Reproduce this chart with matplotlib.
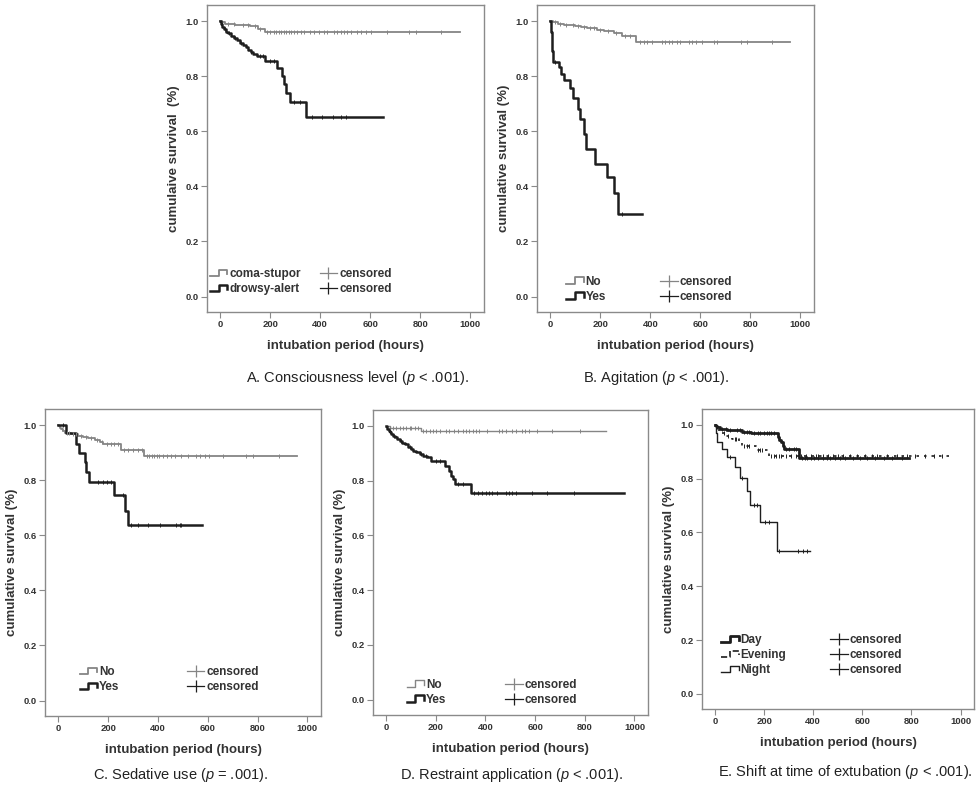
import matplotlib
matplotlib.use("Agg")
import matplotlib.pyplot as plt
import numpy as np
from matplotlib.legend_handler import HandlerBase
from matplotlib.lines import Line2D

plt.rcParams['font.family'] = ['Liberation Sans', 'DejaVu Sans']
plt.rcParams['mathtext.fontset'] = 'custom'
plt.rcParams['mathtext.it'] = 'Liberation Sans:italic'
plt.rcParams['mathtext.rm'] = 'Liberation Sans'

# ---- A. consciousness level -------------------------------------------
a_coma_t = [8, 21, 60, 121, 150, 178]
a_coma_s = [0.995, 0.99, 0.986, 0.981, 0.972, 0.962]
a_coma_end = 960
a_coma_cens = [30, 55, 90, 110, 140, 160, 188, 200, 214, 225, 235, 245, 255, 265,
               275, 285, 295, 308, 322, 335, 361, 375, 395, 415, 428, 455, 469, 482,
               496, 509, 522, 549, 562, 582, 602, 669, 756, 783, 884]
a_drow_t = [3, 8, 14, 22, 30, 42, 55, 68, 80, 92, 102, 112, 122, 132, 147, 180, 228,
            248, 256, 264, 280, 342]
a_drow_s = [0.99, 0.98, 0.97, 0.962, 0.955, 0.946, 0.938, 0.93, 0.922, 0.914, 0.905,
            0.896, 0.888, 0.88, 0.872, 0.855, 0.83, 0.80, 0.77, 0.74, 0.705, 0.652]
a_drow_end = 650
a_drow_cens = [18, 35, 60, 85, 125, 160, 172, 200, 215, 294, 320, 368, 408, 451, 482, 502]

# ---- B. agitation ----------------------------------------------------------
b_no_t = [13, 30, 54, 75, 100, 125, 147, 187, 215, 254, 287, 343]
b_no_s = [0.995, 0.991, 0.987, 0.984, 0.981, 0.978, 0.975, 0.969, 0.964, 0.956, 0.945, 0.924]
b_no_end = 960
b_no_cens = [20, 40, 65, 90, 110, 135, 160, 175, 200, 230, 265, 300, 320, 360, 374, 387,
             407, 447, 460, 474, 487, 507, 520, 554, 567, 581, 607, 654, 668, 761, 788, 888]
b_yes_t = [3, 6, 9, 11, 34, 43, 54, 78, 90, 110, 118, 134, 144, 180, 227, 254, 270]
b_yes_s = [0.96, 0.92, 0.89, 0.853, 0.833, 0.808, 0.787, 0.756, 0.72, 0.681, 0.643,
           0.59, 0.536, 0.481, 0.433, 0.375, 0.30]
b_yes_end = 367
b_yes_cens = [19, 287]

# ---- C. sedative use -------------------------------------------------------
c_no_t = [4, 8, 13, 20, 27, 50, 80, 100, 120, 147, 167, 180, 253, 344]
c_no_s = [0.995, 0.99, 0.984, 0.978, 0.972, 0.967, 0.961, 0.957, 0.953, 0.945, 0.939,
          0.930, 0.909, 0.887]
c_no_end = 960
c_no_cens = [15, 35, 45, 60, 70, 90, 110, 130, 155, 175, 195, 210, 225, 240, 265, 280,
             300, 320, 335, 355, 365, 375, 385, 395, 405, 420, 435, 453, 470, 493, 520,
             553, 567, 587, 607, 660, 753, 780, 884]
c_yes_t = [33, 73, 83, 107, 110, 123, 224, 267, 280]
c_yes_s = [0.970, 0.933, 0.897, 0.867, 0.83, 0.794, 0.748, 0.687, 0.636]
c_yes_end = 576
c_yes_cens = [20, 160, 180, 195, 210, 260, 293, 320, 360, 407, 473, 487, 493]

# ---- D. restraint application ---------------------------------------------
d_no_t = [15, 141]
d_no_s = [0.992, 0.981]
d_no_end = 885
d_no_cens = [28, 41, 55, 68, 81, 95, 101, 115, 128, 148, 161, 175, 188, 201, 215, 241,
             255, 275, 288, 308, 321, 335, 348, 361, 375, 408, 455, 468, 481, 508, 521,
             548, 561, 575, 608, 668, 781]
d_yes_t = [5, 10, 15, 21, 28, 35, 45, 55, 65, 75, 88, 100, 110, 121, 135, 148, 165,
           181, 235, 252, 261, 271, 279, 341]
d_yes_s = [0.99, 0.982, 0.976, 0.970, 0.964, 0.958, 0.951, 0.945, 0.939, 0.933, 0.924,
           0.915, 0.909, 0.903, 0.897, 0.891, 0.885, 0.873, 0.855, 0.836, 0.818, 0.806,
           0.788, 0.755]
d_yes_end = 958
d_yes_cens = [30, 60, 95, 140, 160, 200, 215, 290, 310, 355, 368, 388, 401, 415, 428,
              448, 481, 495, 508, 521, 588, 648, 755]

# ---- E. shift at extubation ------------------------------------------------
e_day_t = [3, 8, 22, 50, 77, 110, 145, 255, 262, 268, 275, 282, 344]
e_day_s = [0.995, 0.99, 0.985, 0.982, 0.979, 0.975, 0.970, 0.955, 0.945, 0.935, 0.922,
           0.911, 0.877]
e_day_end = 789
e_day_cens = [10, 30, 45, 60, 90, 100, 120, 130, 140, 160, 175, 185, 200, 210, 220, 230,
              240, 290, 300, 320, 330, 355, 365, 375, 390, 405, 420, 440, 455, 470, 490,
              510, 530, 560, 590, 620, 650, 690, 720, 760]
e_eve_t = [5, 15, 30, 42, 70, 97, 111, 166, 220]
e_eve_s = [0.99, 0.978, 0.968, 0.958, 0.946, 0.936, 0.92, 0.905, 0.884]
e_eve_end = 965
e_eve_cens = [35, 55, 80, 85, 120, 130, 140, 175, 185, 190, 230, 240, 250, 260, 270,
              290, 310, 330, 350, 370, 390, 410, 420, 440, 460, 480, 500, 520, 550, 580,
              610, 640, 660, 700, 740, 780, 816, 857, 892, 926]
e_night_t = [3, 8, 29, 49, 83, 101, 131, 142, 183, 252]
e_night_s = [0.968, 0.936, 0.911, 0.880, 0.843, 0.804, 0.754, 0.702, 0.638, 0.532]
e_night_end = 385
e_night_cens = [62, 110, 160, 170, 205, 220, 262, 337, 357, 373]


class StepHandler(HandlerBase):
    # little step glyph like the SPSS legend
    def create_artists(self, legend, orig_handle, xdescent, ydescent, width, height,
                       fontsize, trans):
        xs = np.array([0, 0.5, 0.5, 1.0, 1.0]) * width - xdescent
        ys = np.array([0.1, 0.1, 0.9, 0.9, 0.35]) * height - ydescent
        ln = Line2D(xs, ys, color=orig_handle.get_color(),
                    lw=orig_handle.get_linewidth(), ls=orig_handle.get_linestyle(),
                    transform=trans)
        return [ln]


def km(ax, t, s, end, cens, color, lw, ls='-'):
    times = np.r_[0, t, end]
    surv = np.r_[1.0, s, s[-1]]
    ax.step(times, surv, where='post', color=color, lw=lw, ls=ls, zorder=3)
    # survival at the censored times
    idx = np.searchsorted(times, cens, side='right') - 1
    ax.plot(cens, surv[idx], ls='none', marker='|', ms=3, mew=0.7, color=color, zorder=4)


def setup(ax, ylab):
    ax.set_xlim(-53, 1055)
    ax.set_ylim(-0.056, 1.058)
    ax.set_xticks(np.arange(0, 1001, 200))
    ax.set_yticks(np.arange(0, 1.01, 0.2))
    ax.set_yticklabels(['%.1f' % v for v in np.arange(0, 1.01, 0.2)])
    for sp in ax.spines.values():
        sp.set_color('#8a8a8a')
        sp.set_linewidth(1.0)
    ax.tick_params(direction='out', length=4, width=0.8, color='#8a8a8a',
                   labelsize=6.8, labelcolor='#333333', pad=2)
    for lb in ax.get_xticklabels() + ax.get_yticklabels():
        lb.set_fontweight('bold')
    ax.set_xlabel('intubation period (hours)', fontsize=9.5, fontweight='bold',
                  color='#333333', labelpad=8)
    ax.set_ylabel(ylab, fontsize=9.5, fontweight='bold', color='#333333', labelpad=4)


def legend(ax, names, colors, lws, lss, anchor, colsp):
    steps = [Line2D([], [], color=c, lw=w, ls=s) for c, w, s in zip(colors, lws, lss)]
    cens = [Line2D([], [], color=c, lw=0.9, marker='|', ms=9, mew=0.9) for c in colors]
    hmap = {h: StepHandler() for h in steps}
    ax.legend(steps + cens, names + ['censored'] * len(names), ncol=2, frameon=False,
              loc='lower left', bbox_to_anchor=anchor, handler_map=hmap,
              prop={'size': 8.5, 'weight': 'bold'}, handlelength=1.5, handletextpad=0.15,
              columnspacing=colsp, labelspacing=0.25, borderaxespad=0, borderpad=0,
              labelcolor='#333333')


fig = plt.figure(figsize=(9.79, 7.91), dpi=100)
gray = '#858585'
dark = '#1e1e1e'

axA = fig.add_axes([0.2114, 0.6056, 0.283, 0.388])
km(axA, a_coma_t, a_coma_s, a_coma_end, a_coma_cens, gray, 1.3)
km(axA, a_drow_t, a_drow_s, a_drow_end, a_drow_cens, dark, 1.8)
setup(axA, 'cumulaive survival  (%)')
legend(axA, ['coma-stupor', 'drowsy-alert'], [gray, dark], [1.3, 1.8], ['-', '-'],
       (0.01, 0.055), 1.6)

axB = fig.add_axes([0.5485, 0.6056, 0.283, 0.388])
km(axB, b_no_t, b_no_s, b_no_end, b_no_cens, gray, 1.3)
km(axB, b_yes_t, b_yes_s, b_yes_end, b_yes_cens, dark, 1.8)
setup(axB, 'cumulative survival (%)')
legend(axB, ['No', 'Yes'], [gray, dark], [1.3, 1.8], ['-', '-'], (0.105, 0.03), 4.6)

axC = fig.add_axes([0.046, 0.0948, 0.282, 0.388])
km(axC, c_no_t, c_no_s, c_no_end, c_no_cens, gray, 1.3)
km(axC, c_yes_t, c_yes_s, c_yes_end, c_yes_cens, dark, 1.8)
setup(axC, 'cumulative survival (%)')
legend(axC, ['No', 'Yes'], [gray, dark], [1.3, 1.8], ['-', '-'], (0.125, 0.075), 5.7)

axD = fig.add_axes([0.381, 0.0961, 0.281, 0.3856])
km(axD, d_no_t, d_no_s, d_no_end, d_no_cens, gray, 1.0)
km(axD, d_yes_t, d_yes_s, d_yes_end, d_yes_cens, dark, 1.8)
setup(axD, 'cumulative survival (%)')
legend(axD, ['No', 'Yes'], [gray, dark], [1.0, 1.8], ['-', '-'], (0.122, 0.03), 5.0)

axE = fig.add_axes([0.717, 0.1037, 0.278, 0.379])
km(axE, e_day_t, e_day_s, e_day_end, e_day_cens, dark, 2.0)
km(axE, e_eve_t, e_eve_s, e_eve_end, e_eve_cens, dark, 1.2, (0, (1.5, 3)))
km(axE, e_night_t, e_night_s, e_night_end, e_night_cens, dark, 1.0)
setup(axE, 'cumulative survival (%)')
legend(axE, ['Day', 'Evening', 'Night'], [dark, dark, dark], [2.0, 1.2, 1.0],
       ['-', (0, (1.5, 3)), '-'], (0.07, 0.11), 3.7)

cap = dict(ha='center', va='center', fontsize=10.5, color='#222222')
fig.text(357 / 979, 1 - 378 / 791, r'A. Consciousness level ($p$ < .001).', **cap)
fig.text(656 / 979, 1 - 378 / 791, r'B. Agitation ($p$ < .001).', **cap)
fig.text(181 / 979, 1 - 775 / 791, r'C. Sedative use ($p$ = .001).', **cap)
fig.text(511 / 979, 1 - 775 / 791, r'D. Restraint application ($p$ < .001).', **cap)
fig.text(845 / 979, 1 - 772 / 791, r'E. Shift at time of extubation ($p$ < .001).', **cap)

fig.savefig('out.png', dpi=100)
